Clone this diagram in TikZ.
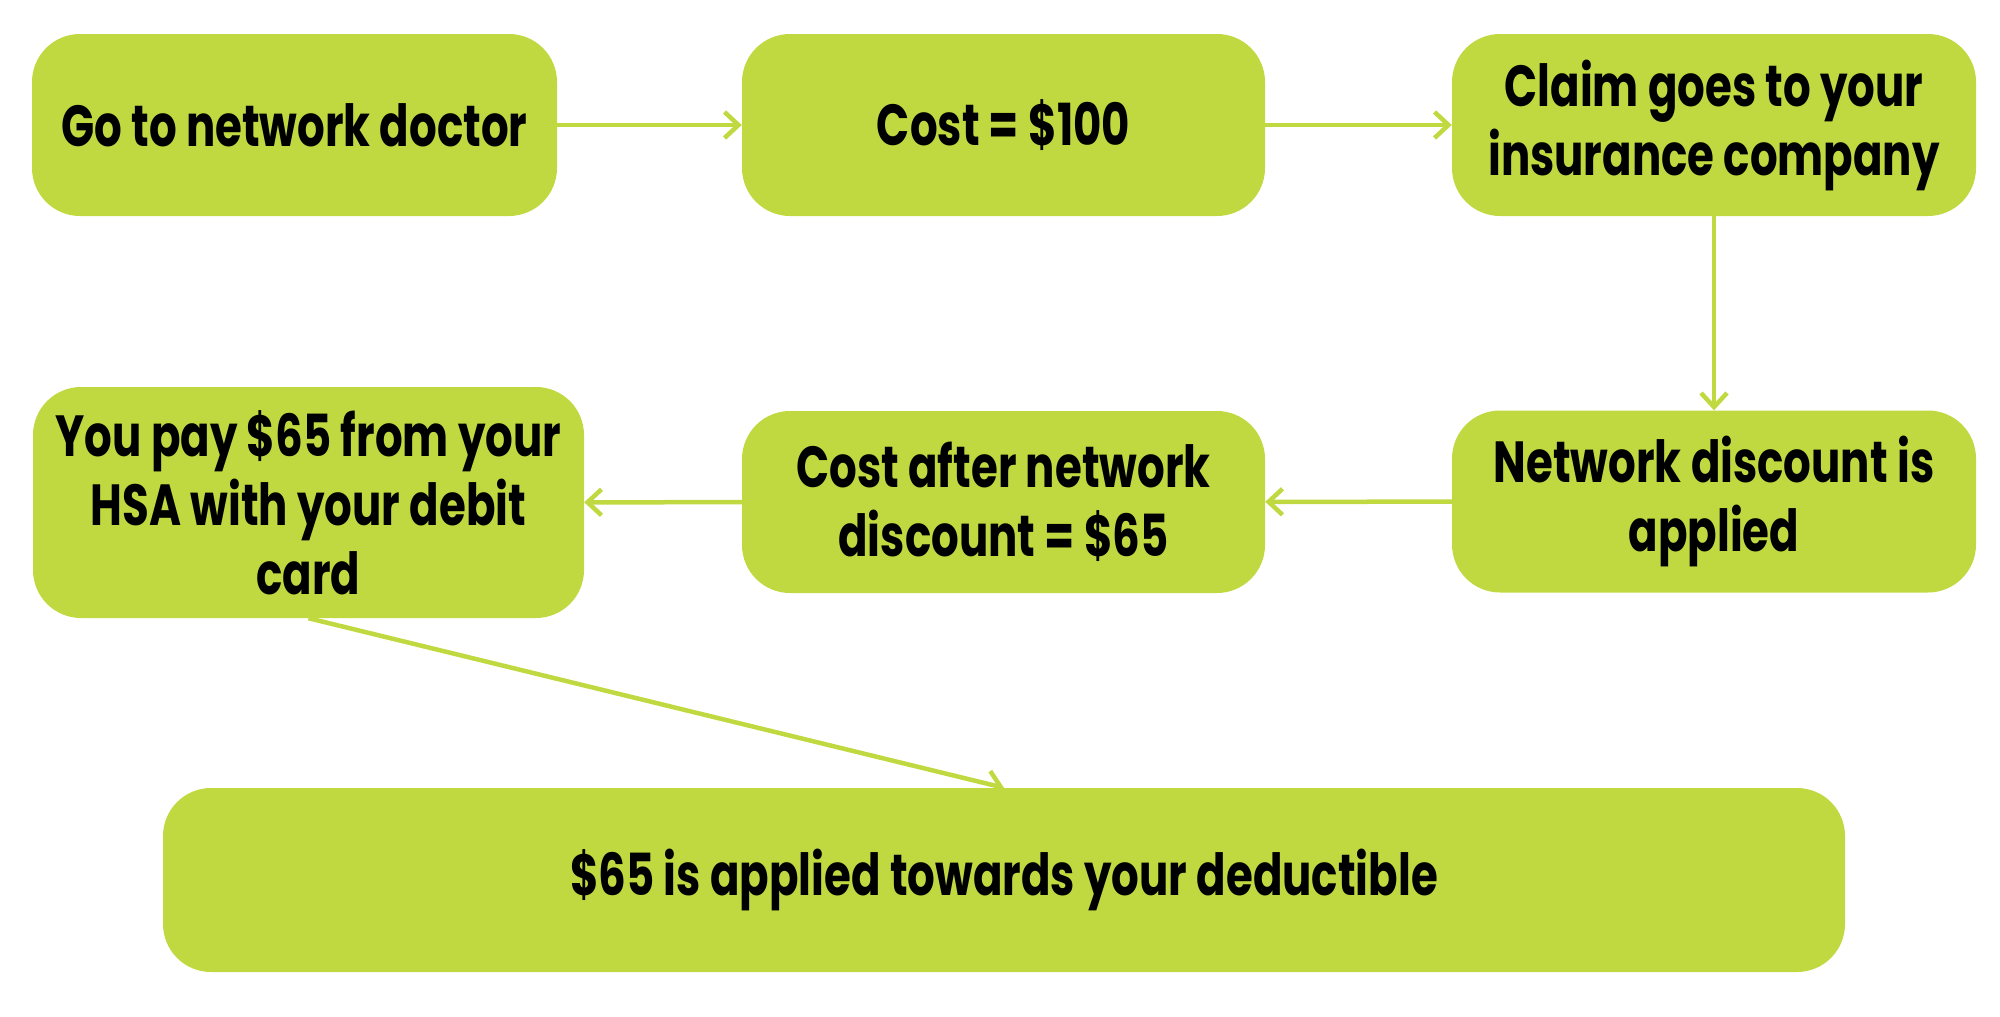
\documentclass[tikz,border=0pt]{standalone}
\usepackage{fontspec}
\setmainfont{Poppins}[FakeStretch=0.75]
\usetikzlibrary{arrows.meta}
\definecolor{boxgreen}{HTML}{C1D941}
\tikzset{
  box/.style={fill=boxgreen, draw=none, rounded corners=48pt, inner sep=0pt,
    align=center, font=\fontsize{58}{69}\selectfont\bfseries, text=black},
  flow/.style={draw=boxgreen, line width=4.5pt,
    -{Straight Barb[length=14pt,width=26pt,line width=4.5pt]}}
}
\begin{document}
\begin{tikzpicture}[x=1pt,y=-1pt]
\useasboundingbox (0,0) rectangle (2000,1017);
\node[box, minimum width=525pt, minimum height=182pt] (n1) at (294.5,125) {Go to network doctor};
\node[box, minimum width=523pt, minimum height=182pt] (n2) at (1003.5,125) {Cost = \$100};
\node[box, minimum width=524pt, minimum height=182pt] (n3) at (1714,125) {Claim goes to your\\insurance company};
\node[box, minimum width=524pt, minimum height=182pt] (n4) at (1714,501.5) {Network discount is\\applied};
\node[box, minimum width=523pt, minimum height=182pt] (n5) at (1003.5,502) {Cost after network\\discount = \$65};
\node[box, minimum width=551pt, minimum height=231pt] (n6) at (308.5,502.5) {You pay \$65 from your\\HSA with your debit\\card};
\node[box, minimum width=1682pt, minimum height=184pt] (n7) at (1004,880) {\$65 is applied towards your deductible};
\draw[flow] (n1) -- (n2);
\draw[flow] (n2) -- (n3);
\draw[flow] (n3) -- (n4);
\draw[flow] (n4) -- (n5);
\draw[flow] (n5) -- (n6);
\draw[flow] (n6.south) -- (n7.north);
\end{tikzpicture}
\end{document}
